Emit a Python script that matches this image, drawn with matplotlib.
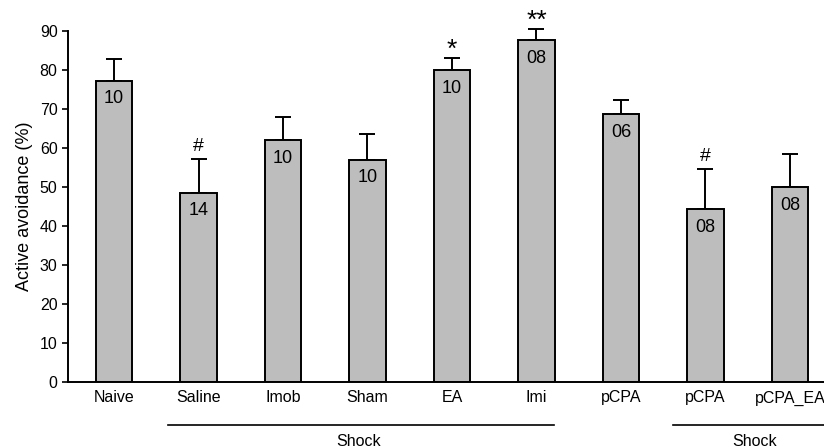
import numpy as np
import matplotlib.pyplot as plt
import matplotlib.transforms as mtransforms

plt.rcParams.update({
    'font.family': ['Liberation Sans', 'DejaVu Sans'],
    'font.size': 11,
})

# data
groups = ['Naive', 'Saline', 'Imob', 'Sham', 'EA', 'Imi', 'pCPA', 'pCPA', 'pCPA_EA']
means = [77.2, 48.5, 62.0, 57.0, 79.9, 87.6, 68.6, 44.3, 49.9]
sems = [5.6, 8.6, 6.0, 6.5, 3.1, 2.8, 3.6, 10.3, 8.6]
n_labels = ['10', '14', '10', '10', '10', '08', '06', '08', '08']
marks = ['', '#', '', '', '*', '**', '', '#', '']

fig = plt.figure(figsize=(8.24, 4.48), dpi=100)
ax = fig.add_axes([0.0825, 0.147, 0.95, 0.784])

x = np.arange(len(groups))
ax.bar(x, means, width=0.43, color='#bdbdbd', edgecolor='black', linewidth=1.4, zorder=2)
eb = ax.errorbar(x, means, yerr=[np.zeros(len(sems)), sems], fmt='none', ecolor='black',
                 elinewidth=1.4, capsize=6, capthick=1.4, zorder=1)
for art in eb.lines[1] + eb.lines[2]:
    art.set_clip_on(False)

for xi, m, s, n, mk in zip(x, means, sems, n_labels, marks):
    ax.annotate(n, (xi, m), xytext=(0, -13), textcoords='offset points',
                ha='center', va='center', fontsize=13)
    if mk == '#':
        ax.annotate(mk, (xi, m + s), xytext=(0, 9), textcoords='offset points',
                    ha='center', va='center', fontsize=14, annotation_clip=False)
    elif mk:
        ax.annotate(mk, (xi, m + s), xytext=(0, 6), textcoords='offset points',
                    ha='center', va='center', fontsize=19, annotation_clip=False)

ax.set_xlim(-0.545, 8.72)
ax.set_ylim(0, 90)
ax.set_yticks(np.arange(0, 91, 10))
ax.set_xticks(x)
ax.set_xticklabels(groups)
ax.tick_params(axis='x', length=0, pad=6, labelsize=11.5)
ax.tick_params(axis='y', length=4, width=1.2, labelsize=11.5, direction='out')
ax.set_ylabel('Active avoidance (%)', fontsize=13, labelpad=5)
for side in ['top', 'right']:
    ax.spines[side].set_visible(False)
for side in ['left', 'bottom']:
    ax.spines[side].set_linewidth(1.4)

# group brackets under the axis
trans = mtransforms.blended_transform_factory(ax.transData, ax.transAxes)
for x0, x1, xt in [(0.64, 5.21, 2.9), (6.62, 9.0, 7.58)]:
    ax.plot([x0, x1], [-0.1225, -0.1225], color='black', lw=1.2,
            transform=trans, clip_on=False)
    ax.text(xt, -0.17, 'Shock', transform=trans, ha='center', va='center', fontsize=11.5)

fig.savefig('out.png', dpi=100)
